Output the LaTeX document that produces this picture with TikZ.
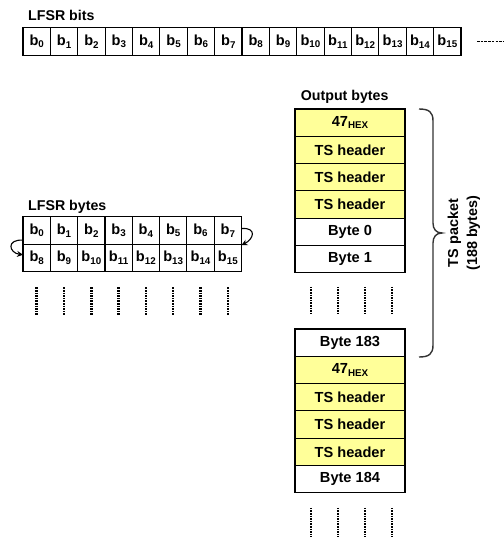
\documentclass[tikz,border=0pt]{standalone}
\usepackage{fontspec}
\setmainfont{Liberation Sans}
\usepackage{tikz}
\usetikzlibrary{arrows.meta,positioning}
\definecolor{hdryellow}{HTML}{FFFF99}
\definecolor{bracegray}{HTML}{333333}
\tikzset{
  cell/.style={draw,line width=1.1pt,minimum width=27.375pt,minimum height=27.3pt,inner sep=0pt,outer sep=0pt,font=\fontsize{14.6}{16}\selectfont\bfseries},
  outcell/.style={cell,minimum width=110pt},
  hdrcell/.style={outcell,fill=hdryellow},
  lbl/.style={anchor=base west,inner sep=0pt,font=\fontsize{14.2}{16}\selectfont\bfseries},
  dotline/.style={line width=2.5pt,dash pattern=on 1.6pt off 1pt},
  wrap/.style={-{Stealth[length=6pt,width=6pt]},line width=1.1pt},
  brace/.style={line width=1.4pt,bracegray}
}
\newcommand{\bsub}[1]{\raisebox{-2.5pt}{\fontsize{9.8}{10}\selectfont #1}}

\begin{document}
\begin{tikzpicture}[x=1pt,y=-1pt]
\useasboundingbox (0,0) rectangle (503,537);
% LFSR bits
\node[lbl] (bitslbl) at (28,20.5) {LFSR bits};
\foreach \i in {0,...,15}
  \node[cell] (bit\i) at ({36.7+27.375*\i},41.5) {b\bsub{\i}};
\coordinate (more) at ([xshift=16pt]bit15.east);
\draw[line width=1.7pt,dash pattern=on 2.6pt off 1.1pt] (more) -- ++(26,0);
% LFSR bytes
\node[lbl] (byteslbl) at (28,210) {LFSR bytes};
\foreach \i in {0,...,7}{
  \pgfmathtruncatemacro\j{\i+8}
  \node[cell] (lo\i) at ({36.7+27.3*\i},230.5) {b\bsub{\i}};
  \node[cell,below=0pt of lo\i] (hi\i) {b\bsub{\j}};
  \draw[dotline] ([yshift=-16pt]hi\i.south) -- ++(0,28);
}
\coordinate (wrapR1) at ([yshift=2pt]lo7.east);
\coordinate (wrapR2) at ([yshift=-1pt]hi7.north east);
\draw[wrap] (wrapR1) .. controls +(16,-1) and +(12,-6) .. (wrapR2);
\coordinate (wrapL1) at ([yshift=4pt]hi0.north west);
\coordinate (wrapL2) at ([yshift=3pt]hi0.west);
\draw[wrap] (wrapL1) .. controls +(-17,-1) and +(-14,-2) .. (wrapL2);
% output bytes
\node[lbl] (outlbl) at (300.7,101) {Output bytes};
\node[hdrcell] (syncA) at (350,122.65) {47\bsub{HEX}};
\node[hdrcell,below=0pt of syncA] (hdrA1) {TS header};
\node[hdrcell,below=0pt of hdrA1] (hdrA2) {TS header};
\node[hdrcell,below=0pt of hdrA2] (hdrA3) {TS header};
\node[outcell,below=0pt of hdrA3] (byte0) {Byte 0};
\node[outcell,below=0pt of byte0] (byte1) {Byte 1};
\foreach \dx in {-39,-12,15,42}
  \draw[dotline] ([xshift=\dx pt,yshift=-14pt]byte1.south) -- ++(0,28);
\node[outcell] (byte183) at (350,342.65) {Byte 183};
\node[hdrcell,below=0pt of byte183] (syncB) {47\bsub{HEX}};
\node[hdrcell,below=0pt of syncB] (hdrB1) {TS header};
\node[hdrcell,below=0pt of hdrB1] (hdrB2) {TS header};
\node[hdrcell,below=0pt of hdrB2] (hdrB3) {TS header};
\node[outcell,below=0pt of hdrB3] (byte184) {Byte 184};
\foreach \dx in {-39,-12,15,42}
  \draw[dotline] ([xshift=\dx pt,yshift=-15pt]byte184.south) -- ++(0,29);
% packet brace
\draw[brace] (419,109) .. controls (429,109) and (433,112) .. (433,121) -- (433,223)
  .. controls (433,229) and (436,233) .. (442,233) .. controls (436,233) and (433,237) .. (433,243)
  -- (433,345) .. controls (433,354) and (429,357) .. (419,357);
\node[rotate=90,align=center,inner sep=0pt,font=\fontsize{14.4}{19}\selectfont\bfseries] (tspkt) at (464,233) {TS packet\\(188 bytes)};
\end{tikzpicture}
\end{document}
